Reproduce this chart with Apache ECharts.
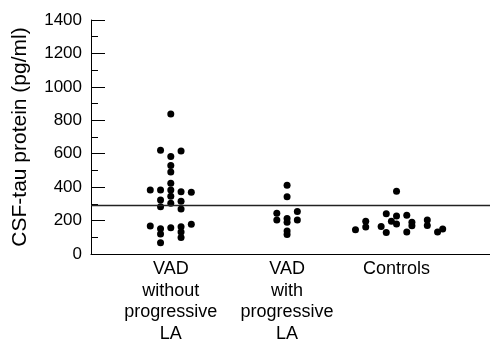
<!DOCTYPE html>
<html>
<head>
    <meta charset="utf-8">
</head>
<body style="margin: 0; background: #fff">
<div id="container" style="width: 490px; height: 339px"></div>
<script type="text/javascript" src="https://cdn.jsdelivr.net/npm/echarts@6/dist/echarts.min.js"></script>
<script type="text/javascript">
    // group names and where each group sits on the x axis
    var groupNames = ['VAD\nwithout\nprogressive\nLA', 'VAD\nwith\nprogressive\nLA', 'Controls'];
    var groupPos = [0, 1.02, 1.98];
    var colStep = 0.09;   // horizontal spacing between stacked dots

    // [column offset, CSF-tau pg/ml]
    var vadWithout = [
        [0, 838], [-1, 620], [1, 616], [0, 584], [0, 530], [0, 490], [0, 423],
        [-2, 383], [-1, 383], [0, 383], [1, 373], [2, 369], [0, 345], [-1, 323],
        [1, 315], [0, 303], [-1, 283], [1, 269], [-2, 168], [2, 178], [-1, 151],
        [0, 157], [1, 163], [-1, 120], [1, 132], [1, 98], [-1, 68]
    ];
    var vadWith = [
        [0, 411], [0, 342], [-1, 244], [1, 255], [-1, 204], [0, 213], [0, 190],
        [1, 204], [0, 138], [0, 116]
    ];
    var controls = [
        [0, 375], [-4, 145], [-3, 196], [-3, 162], [-1.5, 165], [-1, 129], [-1, 241],
        [-0.5, 196], [0, 228], [0, 180], [1, 232], [1.5, 190], [1.5, 169], [1, 132],
        [3, 204], [3, 170], [4, 131], [4.5, 150]
    ];
    var cutoff = 290;
    var yTicks = [0, 200, 400, 600, 800, 1000, 1200, 1400];

    var groups = [vadWithout, vadWith, controls];
    var points = [];
    groups.forEach(function (g, gi) {
        g.forEach(function (p) {
            points.push([groupPos[gi] + p[0] * colStep, p[1]]);
        });
    });

    var dom = document.getElementById("container");
    var myChart = echarts.init(dom);
    var font = 'Liberation Sans, Arial, sans-serif';

    var option = {
        animation: false,
        grid: {left: 91, right: 0, top: 20, bottom: 85, outerBoundsMode: 'none'},
        xAxis: {
            type: 'value',
            min: -0.7,
            max: 2.8,
            splitLine: {show: false},
            axisLine: {show: true, onZero: false, lineStyle: {color: '#000', width: 1}},
            axisTick: {show: false},
            axisLabel: {
                customValues: groupPos,
                formatter: function (v) {
                    var i = groupPos.indexOf(v);
                    return i >= 0 ? groupNames[i] : '';
                },
                color: '#000',
                fontFamily: font,
                fontSize: 18,
                lineHeight: 21.7,
                margin: 4
            }
        },
        yAxis: {
            type: 'value',
            min: yTicks[0],
            max: yTicks[yTicks.length - 1],
            interval: 200,
            name: 'CSF-tau protein (pg/ml)',
            nameLocation: 'middle',
            nameRotate: 90,
            nameGap: 60,
            nameTextStyle: {color: '#000', fontFamily: font, fontSize: 21},
            splitLine: {show: false},
            axisLine: {show: true, onZero: false, lineStyle: {color: '#000', width: 1}},
            axisTick: {show: true, inside: true, length: 14, lineStyle: {color: '#000'}},
            minorTick: {show: true, splitNumber: 2, length: 7, lineStyle: {color: '#000'}},
            axisLabel: {
                color: '#000', fontFamily: font, fontSize: 17, margin: 9,
                formatter: function (v) { return String(v); }
            }
        },
        series: [
            {
                type: 'scatter',
                data: points,
                symbol: 'circle',
                symbolSize: 7,
                itemStyle: {color: '#000', opacity: 1},
                markLine: {
                    silent: true,
                    symbol: 'none',
                    label: {show: false},
                    lineStyle: {color: '#222', width: 1.4, type: 'solid'},
                    data: [{yAxis: cutoff}]
                }
            }
        ]
    };

    myChart.setOption(option, true);
</script>
</body>
</html>
